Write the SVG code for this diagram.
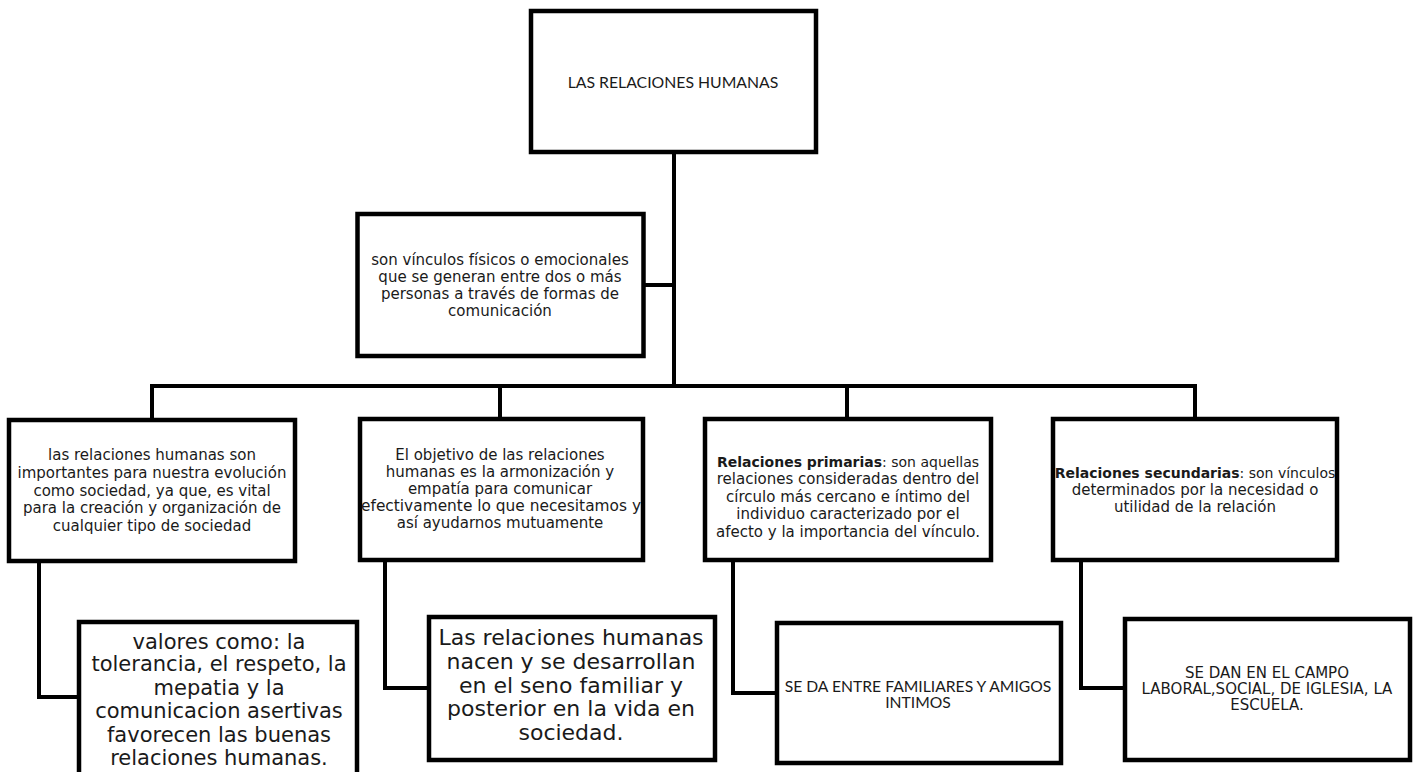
<svg xmlns="http://www.w3.org/2000/svg" width="1418" height="772" viewBox="0 0 1418 772">
<style>
.box{fill:#fff;stroke:#000;stroke-width:4.5}
.conn{fill:none;stroke:#000;stroke-width:4;stroke-linejoin:miter}
.v{font-family:"DejaVu Sans","Liberation Sans",sans-serif;fill:#1a1a1a;text-anchor:middle}
.g{font-family:Lato,"Open Sans",sans-serif;fill:#1a1a1a;text-anchor:middle}
.t15{font-size:15px}
.t21{font-size:21px}
.t23{font-size:22px}
</style>
<rect width="1418" height="772" fill="#fff"/>
<g id="connectors">
<path class="conn" d="M674 154 V387"/>
<path class="conn" d="M645 285 H674"/>
<path class="conn" d="M152 418 V386 H1195 V418"/>
<path class="conn" d="M500 386 V418"/>
<path class="conn" d="M847 386 V418"/>
<path class="conn" d="M39 563 V697 H78"/>
<path class="conn" d="M385 557 V688 H428"/>
<path class="conn" d="M733 562 V693 H776"/>
<path class="conn" d="M1081 557 V688 H1124"/>
</g>
<g id="n-top">
<rect class="box" x="531" y="11" width="285" height="141"/>
<text class="g" x="673" y="88" font-size="15.8">LAS RELACIONES HUMANAS</text>
</g>
<g id="n-def">
<rect class="box" x="357.5" y="214" width="286" height="142" stroke-width="5.5"/>
<text class="v t15" x="500" y="265">son vínculos físicos o emocionales</text>
<text class="v t15" x="500" y="282">que se generan entre dos o más</text>
<text class="v t15" x="500" y="299">personas a través de formas de</text>
<text class="v t15" x="500" y="316">comunicación</text>
</g>
<g id="n-importancia">
<rect class="box" x="9" y="420" width="286" height="141"/>
<text class="v t15" x="152" y="460">las relaciones humanas son</text>
<text class="v t15" x="152" y="478">importantes para nuestra evolución</text>
<text class="v t15" x="152" y="496">como sociedad, ya que, es vital</text>
<text class="v t15" x="152" y="513">para la creación y organización de</text>
<text class="v t15" x="152" y="531">cualquier tipo de sociedad</text>
</g>
<g id="n-objetivo">
<rect class="box" x="360" y="419" width="283" height="141"/>
<text class="v t15" x="500" y="460">El objetivo de las relaciones</text>
<text class="v t15" x="500" y="477">humanas es la armonización y</text>
<text class="v t15" x="500" y="494">empatía para comunicar</text>
<text class="v t15" x="501" y="511" textLength="280" lengthAdjust="spacingAndGlyphs">efectivamente lo que necesitamos y</text>
<text class="v t15" x="500" y="528">así ayudarnos mutuamente</text>
</g>
<g id="n-primarias">
<rect class="box" x="705" y="419" width="286" height="141"/>
<text class="v" x="848" y="467" font-size="14"><tspan font-weight="bold">Relaciones primarias</tspan>: son aquellas</text>
<text class="v t15" x="848" y="484">relaciones consideradas dentro del</text>
<text class="v t15" x="848" y="502">círculo más cercano e íntimo del</text>
<text class="v t15" x="848" y="519">individuo caracterizado por el</text>
<text class="v t15" x="848" y="537">afecto y la importancia del vínculo.</text>
</g>
<g id="n-secundarias">
<rect class="box" x="1053" y="419" width="284" height="141"/>
<text class="v" x="1195" y="478" font-size="14"><tspan font-weight="bold">Relaciones secundarias</tspan>: son vínculos</text>
<text class="v t15" x="1195" y="495">determinados por la necesidad o</text>
<text class="v t15" x="1195" y="512">utilidad de la relación</text>
</g>
<g id="n-valores">
<rect class="box" x="79" y="622" width="278" height="160"/>
<text class="v t21" x="219" y="649">valores como: la</text>
<text class="v t21" x="219" y="671">tolerancia, el respeto, la</text>
<text class="v t21" x="219" y="695">mepatia y la</text>
<text class="v t21" x="219" y="718">comunicacion asertivas</text>
<text class="v t21" x="219" y="742">favorecen las buenas</text>
<text class="v t21" x="219" y="765">relaciones humanas.</text>
</g>
<g id="n-nacen">
<rect class="box" x="429" y="617" width="286" height="143"/>
<text class="v t23" x="571" y="645">Las relaciones humanas</text>
<text class="v t23" x="571" y="669">nacen y se desarrollan</text>
<text class="v t23" x="571" y="692.5">en el seno familiar y</text>
<text class="v t23" x="571" y="716">posterior en la vida en</text>
<text class="v t23" x="571" y="740">sociedad.</text>
</g>
<g id="n-familiares">
<rect class="box" x="777" y="623" width="284" height="140"/>
<text class="g" x="918" y="692" font-size="15.7">SE DA ENTRE FAMILIARES Y AMIGOS</text>
<text class="g" x="918" y="708" font-size="15.7">INTIMOS</text>
</g>
<g id="n-campo">
<rect class="box" x="1125" y="619" width="285" height="141"/>
<text class="v" x="1267" y="678" font-size="15">SE DAN EN EL CAMPO</text>
<text class="v" x="1267" y="694" font-size="15">LABORAL,SOCIAL, DE IGLESIA, LA</text>
<text class="v" x="1267" y="710" font-size="15">ESCUELA.</text>
</g>
</svg>
